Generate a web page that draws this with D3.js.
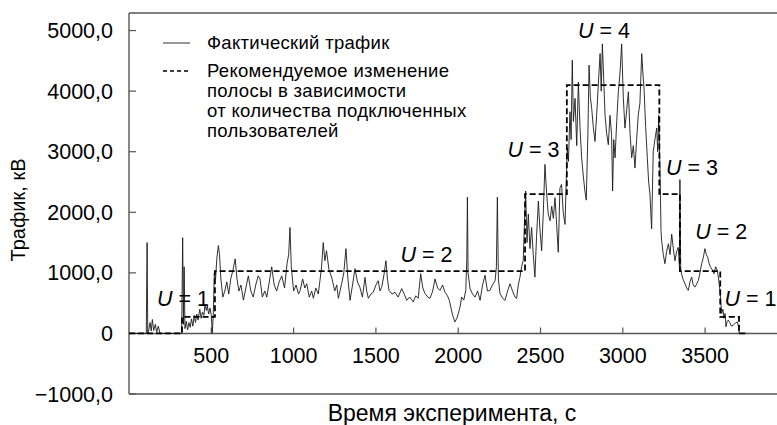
<!DOCTYPE html>
<html>
<head>
<meta charset="utf-8">
<script src="https://cdn.jsdelivr.net/npm/d3@7"></script>
<style>
  body { margin: 0; background: #fff; }
  svg { display: block; font-family: "Liberation Sans", Arial, Helvetica, sans-serif; }
</style>
</head>
<body>
<svg id="chart" width="777" height="425"></svg>
<script>
// measured traffic: time (s) and value (kV)
const trafficTime = [0,105,110,114,120,128,135,142,150,160,168,178,188,320,326,331,335,340,348,356,364,372,380,388,396,404,412,420,430,438,446,455,462,470,476,484,492,500,506,512,518,526,534,543,550,558,570,582,594,606,618,632,645,656,668,680,695,710,725,740,755,770,785,796,810,825,837,852,867,882,897,912,928,945,960,970,978,986,1000,1015,1030,1040,1055,1068,1080,1095,1110,1120,1135,1150,1160,1170,1180,1190,1200,1215,1231,1250,1262,1272,1282,1292,1305,1318,1330,1343,1358,1373,1388,1403,1418,1434,1444,1454,1470,1484,1500,1514,1525,1535,1548,1561,1570,1580,1598,1616,1635,1657,1672,1687,1705,1727,1742,1757,1765,1772,1785,1798,1815,1829,1845,1859,1875,1889,1905,1920,1935,1946,1956,1966,1980,1992,2001,2012,2021,2034,2046,2052,2056,2060,2072,2087,2102,2118,2133,2148,2163,2178,2193,2208,2224,2232,2238,2244,2254,2270,2284,2300,2315,2330,2345,2355,2365,2375,2385,2395,2402,2410,2418,2426,2436,2446,2456,2466,2476,2487,2497,2507,2517,2527,2537,2547,2558,2568,2578,2588,2598,2608,2618,2628,2638,2649,2656,2663,2670,2679,2686,2693,2700,2710,2720,2730,2740,2750,2760,2770,2778,2788,2795,2803,2811,2821,2831,2841,2851,2862,2869,2876,2884,2892,2902,2912,2922,2932,2938,2945,2953,2963,2973,2983,2993,3003,3013,3024,3034,3044,3054,3064,3074,3084,3094,3104,3115,3122,3129,3139,3149,3157,3165,3175,3185,3195,3206,3212,3218,3226,3232,3236,3246,3256,3266,3277,3287,3297,3307,3317,3327,3337,3344,3347,3352,3365,3378,3388,3398,3408,3418,3428,3439,3449,3459,3469,3479,3489,3499,3508,3516,3525,3534,3544,3554,3564,3574,3582,3590,3596,3601,3608,3615,3621,3627,3634,3641,3650,3660,3672,3684,3696,3704,3708];
const trafficValue = [0,0,1500,0,60,180,40,230,50,150,20,120,0,0,1580,150,1100,80,200,60,180,100,240,120,300,180,320,220,400,250,350,300,480,380,450,320,420,300,0,300,1000,900,1250,1450,1300,900,600,700,850,650,900,1050,1230,900,700,800,550,750,950,700,600,800,950,900,600,700,600,850,1100,800,700,850,950,750,1150,1300,1750,1100,700,800,650,710,900,750,820,600,700,580,750,650,870,1100,1500,1200,1365,1050,930,700,800,580,700,820,1000,1400,900,546,800,1070,850,760,600,925,700,580,650,680,800,870,700,760,950,1200,900,710,650,680,600,740,650,546,600,520,620,580,800,985,750,660,600,580,700,900,750,710,800,680,620,546,420,300,190,250,330,450,600,550,710,1200,2250,1000,740,650,600,700,546,800,960,700,710,800,870,1100,2250,900,660,580,546,700,820,700,600,580,800,925,1100,1200,1800,2350,1500,1970,1400,1750,1300,930,1600,2185,1700,1365,2000,2790,2320,1970,1860,2100,1900,2240,1800,1340,2400,2460,2000,1800,2500,3060,2840,3660,3200,4510,3500,3880,3100,4150,3400,2900,2600,2350,2200,3300,4430,3900,3715,3400,3170,3600,4100,4620,4000,4780,4200,3610,3300,3115,3600,3280,2350,3200,2900,3500,3990,4300,4780,3900,3390,3700,3990,3300,2900,3100,2730,3200,3610,3800,4620,4300,4040,3400,2900,2500,2300,1725,3005,3200,3390,3000,3600,2730,1700,1530,1300,1150,1350,1480,1300,1640,1400,1200,1350,1420,1100,2540,1040,900,820,750,710,850,930,800,765,820,875,1000,1150,1250,1400,1300,1255,1150,1090,1050,985,1100,1040,900,710,500,330,400,250,330,110,200,220,180,120,140,170,190,100,0];

// recommended bandwidth steps (time boundaries and level per step)
const stepTime = [0, 322, 522, 2406, 2660, 3222, 3347, 3592, 3706, 3760];
const stepLevel = [0, 272, 1030, 2300, 4100, 2300, 1030, 272, 0];

// U labels
const uTime = [170, 1650, 2300, 2728, 3262, 3440, 3618];
const uLevel = [450, 1180, 2920, 4880, 2610, 1560, 460];
const uText = ["1", "2", "3", "4", "3", "2", "1"];

const xTicks = [500, 1000, 1500, 2000, 2500, 3000, 3500];
const yTicks = [5000, 4000, 3000, 2000, 1000, 0, -1000];
const yTickLabels = ["5000,0", "4000,0", "3000,0", "2000,0", "1000,0", "0", "\u22121000,0"];

const svg = d3.select("#chart");

const x = d3.scaleLinear().domain([0, 4000]).range([129, 787.4]);
const y = d3.scaleLinear().domain([-1000, 5290]).range([394, 13]);

const axisColor = "#555";

// frame: top, left, bottom
svg.append("line")
    .attr("x1", x(0)).attr("x2", 777).attr("y1", y(5290)).attr("y2", y(5290))
    .attr("stroke", "#000").attr("stroke-width", 1.2);
svg.append("line")
    .attr("x1", x(0)).attr("x2", 777).attr("y1", y(-1000)).attr("y2", y(-1000))
    .attr("stroke", axisColor).attr("stroke-width", 1.4);
svg.append("line")
    .attr("x1", x(0)).attr("x2", x(0)).attr("y1", y(5290)).attr("y2", y(-1000))
    .attr("stroke", axisColor).attr("stroke-width", 1.4);

// y ticks (inward) and labels
svg.selectAll(".ytick").data(yTicks).join("line")
    .attr("x1", x(0)).attr("x2", x(0) + 7)
    .attr("y1", d => y(d)).attr("y2", d => y(d))
    .attr("stroke", axisColor).attr("stroke-width", 1.2);
svg.selectAll(".ylab").data(yTicks).join("text")
    .attr("x", 113).attr("y", d => y(d) + 7.5)
    .attr("text-anchor", "end")
    .attr("font-size", 21.5)
    .text((d, i) => yTickLabels[i]);

// x axis along zero
svg.append("line")
    .attr("x1", x(0)).attr("x2", 777).attr("y1", y(0)).attr("y2", y(0))
    .attr("stroke", axisColor).attr("stroke-width", 1.6);
svg.selectAll(".xtick").data(xTicks).join("line")
    .attr("x1", d => x(d)).attr("x2", d => x(d))
    .attr("y1", y(0)).attr("y2", y(0) - 6)
    .attr("stroke", axisColor).attr("stroke-width", 1.2);
svg.selectAll(".xlab").data(xTicks).join("text")
    .attr("x", d => x(d)).attr("y", y(0) + 30)
    .attr("text-anchor", "middle")
    .attr("font-size", 21.5)
    .text(d => d);

// axis titles
svg.append("text")
    .attr("x", 452).attr("y", 421)
    .attr("text-anchor", "middle")
    .attr("font-size", 23)
    .text("Время эксперимента, с");
svg.append("text")
    .attr("transform", "translate(25,210) rotate(-90)")
    .attr("text-anchor", "middle")
    .attr("font-size", 20)
    .text("Трафик, кВ");

// actual traffic
const traffic = trafficTime.map((t, i) => ({ t: t, v: trafficValue[i] }));
const line = d3.line()
    .x(d => x(d.t))
    .y(d => y(d.v));
svg.append("path")
    .datum(traffic)
    .attr("fill", "none")
    .attr("stroke", "#1a1a1a")
    .attr("stroke-width", 0.9)
    .attr("d", line);

// recommended steps
const steps = stepLevel.map((v, i) => ({ t: stepTime[i], v: v }));
steps.push({ t: stepTime[stepTime.length - 1], v: stepLevel[stepLevel.length - 1] });
const stepLine = d3.line()
    .x(d => x(d.t))
    .y(d => y(d.v))
    .curve(d3.curveStepAfter);
svg.append("path")
    .datum(steps)
    .attr("fill", "none")
    .attr("stroke", "#000")
    .attr("stroke-width", 1.8)
    .attr("stroke-dasharray", "6,3")
    .attr("d", stepLine);

// U labels
const uLab = svg.selectAll(".ulab").data(uText).join("text")
    .attr("x", (d, i) => x(uTime[i]))
    .attr("y", (d, i) => y(uLevel[i]))
    .attr("font-size", 21.5);
uLab.append("tspan").attr("font-style", "italic").text("U");
uLab.append("tspan").text(d => " = " + d);

// legend
const lg = svg.append("g");
lg.append("line")
    .attr("x1", 163).attr("x2", 190).attr("y1", 43).attr("y2", 43)
    .attr("stroke", "#1a1a1a").attr("stroke-width", 0.9);
lg.append("text").attr("x", 207).attr("y", 49).attr("font-size", 18.5)
    .attr("letter-spacing", 0.3)
    .text("Фактический трафик");
lg.append("line")
    .attr("x1", 163).attr("x2", 190).attr("y1", 71).attr("y2", 71)
    .attr("stroke", "#000").attr("stroke-width", 1.4)
    .attr("stroke-dasharray", "4,3");
const legendLines = ["Рекомендуемое изменение", "полосы в зависимости",
    "от количества подключенных", "пользователей"];
lg.selectAll(".lgt").data(legendLines).join("text")
    .attr("x", 207)
    .attr("y", (d, i) => 77 + i * 20)
    .attr("font-size", 18.5)
    .attr("letter-spacing", 0.3)
    .text(d => d);
</script>
</body>
</html>
